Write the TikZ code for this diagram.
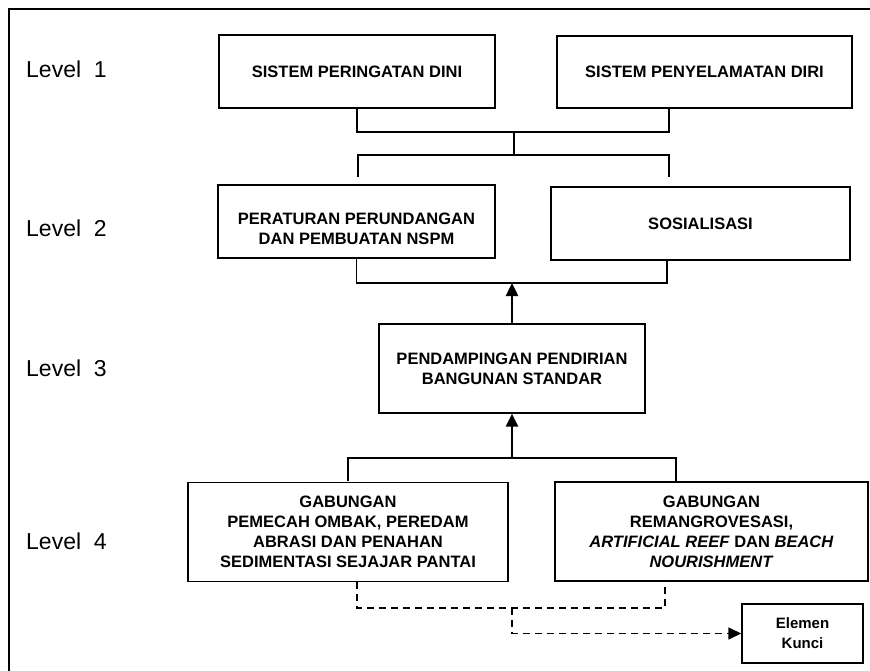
\documentclass[tikz,border=0pt]{standalone}
\usepackage{fontspec}
\setmainfont{Liberation Sans}
\usetikzlibrary{arrows.meta,positioning}
\begin{document}
\begin{tikzpicture}[x=1pt,y=-1pt,
  box/.style={draw,line width=1.4pt,align=center,inner sep=0pt,font=\bfseries\fontsize{16.5}{20}\selectfont},
  link/.style={line width=1.4pt},
  dlink/.style={line width=1.4pt,dash pattern=on 7pt off 5pt},
  uparrow/.style={line width=2.4pt,-{Triangle[length=13pt,width=12pt]}},
  lvl/.style={anchor=west,inner sep=0pt,font=\fontsize{23}{27}\selectfont}]
  \useasboundingbox (0,0) rectangle (870,671);
  % outer frame (runs off the page right and bottom)
  \draw[line width=1.4pt] (870,9) -- (9,9) -- (9,671);
  % level labels
  \foreach \n/\y in {1/69,2/228,3/368,4/541}
    \node[lvl] (lvl\n) at (26,\y) {Level\ \ \n};
  % level 1
  \node[box,minimum width=276pt,minimum height=73pt] (early) at (357,71.5) {SISTEM PERINGATAN DINI};
  \node[box,minimum width=295pt,minimum height=72pt] (rescue) at (704.5,72) {SISTEM PENYELAMATAN DIRI};
  % level 2
  \node[box,minimum width=277pt,minimum height=73pt] (rules) at (356.5,221.5) {\rule{0pt}{26pt}PERATURAN PERUNDANGAN\\DAN PEMBUATAN NSPM};
  \node[box,minimum width=299pt,minimum height=73pt] (social) at (700.5,223.5) {SOSIALISASI};
  % level 3
  \node[box,minimum width=266pt,minimum height=89pt] (assist) at (512,368.5) {PENDAMPINGAN PENDIRIAN\\BANGUNAN STANDAR};
  % level 4
  \node[box,minimum width=320pt,minimum height=99pt] (breaker) at (348,532) {GABUNGAN\\PEMECAH OMBAK, PEREDAM\\ABRASI DAN PENAHAN\\SEDIMENTASI SEJAJAR PANTAI};
  \node[box,minimum width=313pt,minimum height=99pt] (mangrove) at (711.5,531.5) {GABUNGAN\\REMANGROVESASI,\\\textit{ARTIFICIAL REEF} DAN \textit{BEACH}\\\textit{NOURISHMENT}};
  % key element
  \node[box,minimum width=121pt,minimum height=59pt,font=\bfseries\fontsize{15}{20}\selectfont] (key) at (802.5,633.5) {Elemen\\Kunci};
  % brackets between level 1 and level 2
  \coordinate (b1) at (669,132);
  \coordinate (b2) at (514,155);
  \coordinate (b2l) at (358,177);
  \coordinate (b2r) at (669,177);
  \draw[link] (early.south) |- (b1) -- (b1 |- rescue.south);
  \draw[link] (b2) -- (b2 |- b1);
  \draw[link] (b2l) |- (b2) -| (b2r);
  % level 3 up to level 2
  \coordinate (b3) at (512,283);
  \coordinate (b3r) at (667,260);
  \draw[link] (rules.south) |- (b3) -| (b3r);
  \draw[uparrow] (assist.north) -- (b3);
  % level 4 up to level 3
  \coordinate (b4) at (512,458);
  \coordinate (b4l) at (348,481);
  \coordinate (b4r) at (676,481);
  \draw[link] (b4l) |- (b4) -| (b4r);
  \draw[uparrow] (b4) -- (assist.south);
  % dashed link to the key element
  \coordinate (d1) at (512,608);
  \coordinate (d1l) at (357,582);
  \coordinate (d1r) at (665,581);
  \draw[dlink] (d1l) |- (d1) -| (d1r);
  \draw[dlink,-{Triangle[length=13pt,width=12pt]}] (d1) |- (key.west);
\end{tikzpicture}
\end{document}
